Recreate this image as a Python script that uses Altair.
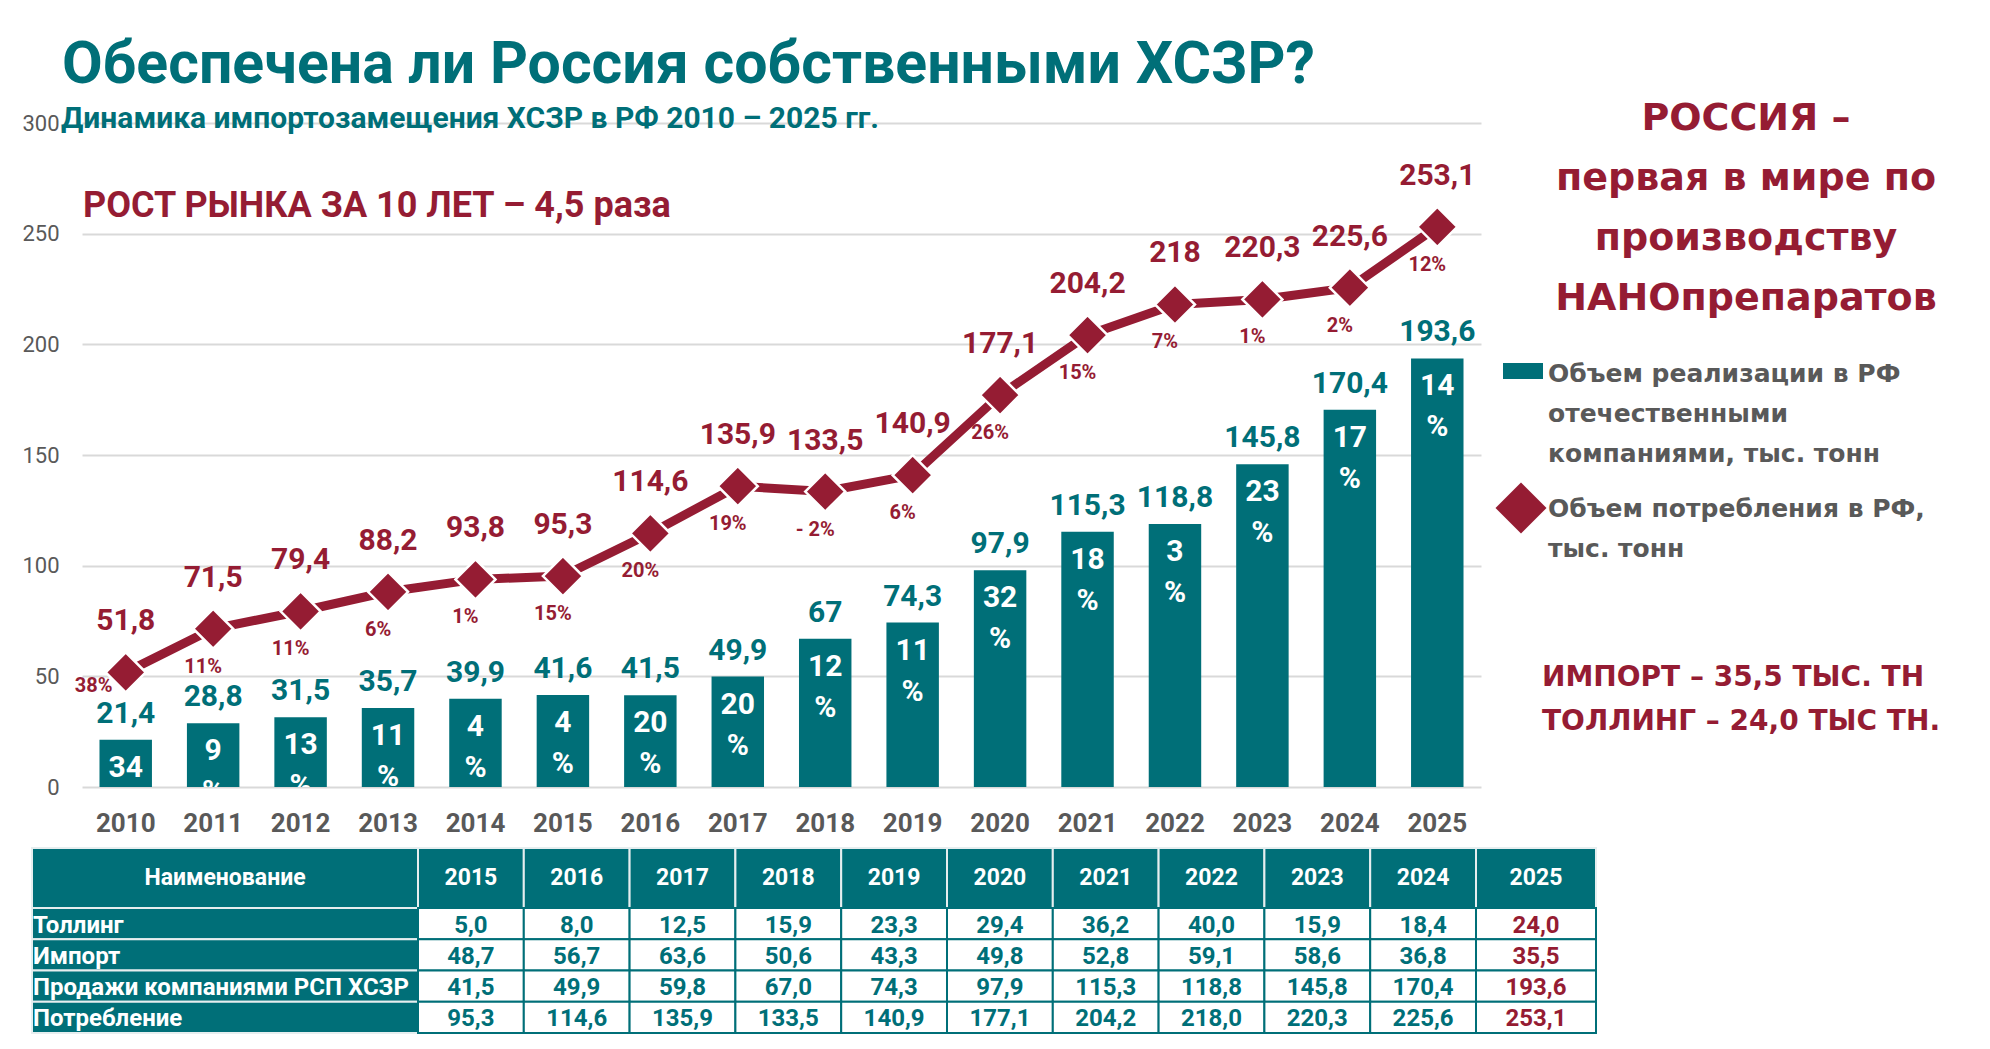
import altair as alt
import pandas as pd

# ---------------------------------------------------------------- data
years = [str(y) for y in range(2010, 2026)]
sales = [21.4, 28.8, 31.5, 35.7, 39.9, 41.6, 41.5, 49.9, 67, 74.3,
         97.9, 115.3, 118.8, 145.8, 170.4, 193.6]
sales_growth = [34, 9, 13, 11, 4, 4, 20, 20, 12, 11, 32, 18, 3, 23, 17, 14]
consumption = [51.8, 71.5, 79.4, 88.2, 93.8, 95.3, 114.6, 135.9, 133.5, 140.9,
               177.1, 204.2, 218, 220.3, 225.6, 253.1]
consumption_growth = [38, 11, 11, 6, 1, 15, 20, 19, -2, 6, 26, 15, 7, 1, 2, 12]

table_years = [str(y) for y in range(2015, 2026)]
table_names = ["Толлинг", "Импорт", "Продажи компаниями РСП ХСЗР", "Потребление"]
tolling = [5.0, 8.0, 12.5, 15.9, 23.3, 29.4, 36.2, 40.0, 15.9, 18.4, 24.0]
imports = [48.7, 56.7, 63.6, 50.6, 43.3, 49.8, 52.8, 59.1, 58.6, 36.8, 35.5]
sales_rsp = [41.5, 49.9, 59.8, 67.0, 74.3, 97.9, 115.3, 118.8, 145.8, 170.4, 193.6]
consumption_tbl = [95.3, 114.6, 135.9, 133.5, 140.9, 177.1, 204.2, 218.0, 220.3, 225.6, 253.1]

# ---------------------------------------------------------------- style
TEAL = "#006F78"
RED = "#951C33"
GRAY = "#595959"
GRID = "#D9D9D9"
NARROW = "Roboto"
WIDE = "DejaVu Sans"

W, H = 1399, 664          # plot area
PAD = {"left": 82, "top": 123, "right": 1990 - 82 - W, "bottom": 1049 - 123 - H}


def ru(v, fixed=False):
    s = f"{v:.1f}" if fixed else f"{v:g}"
    return s.replace(".", ",")


def pct(g):
    return f"{g}%" if g >= 0 else f"- {abs(g)}%"


df = pd.DataFrame({
    "year": years,
    "sales": sales,
    "sales_lbl": [ru(v) for v in sales],
    "sales_growth": [str(g) for g in sales_growth],
    "cons": consumption,
    "cons_lbl": [ru(v) for v in consumption],
    "cons_growth": [pct(g) for g in consumption_growth],
})

y_scale = alt.Scale(domain=[0, 300], nice=False, zero=True)
x_axis = alt.Axis(labelAngle=0, labelFont=NARROW, labelFontWeight="bold",
                  labelFontSize=26, labelColor=GRAY, labelPadding=36,
                  labelBaseline="middle", ticks=False, tickSize=0,
                  domain=False, grid=False)
y_axis = alt.Axis(values=[0, 50, 100, 150, 200, 250, 300], labelFont=NARROW,
                  labelFontSize=22, labelColor=GRAY, labelPadding=23,
                  ticks=False, tickSize=0, domain=False, grid=True,
                  gridColor=GRID, gridWidth=2)
X = alt.X("year:O", title=None,
          scale=alt.Scale(paddingInner=0.4, paddingOuter=0.2), axis=x_axis)


def Ys(field):
    return alt.Y(f"{field}:Q", title=None, scale=y_scale)


base = alt.Chart(df)

bars = base.mark_bar(color=TEAL).encode(
    x=X, y=alt.Y("sales:Q", title=None, scale=y_scale, axis=y_axis))

bar_values = base.mark_text(font=NARROW, fontWeight="bold", fontSize=30,
                            color=TEAL, baseline="middle", dy=-26).encode(
    x="year:O", y=Ys("sales"), text="sales_lbl:N")

bar_growth = base.mark_text(font=NARROW, fontWeight="bold", fontSize=30,
                            color="white", baseline="middle", dy=28,
                            clip=True).encode(
    x="year:O", y=Ys("sales"), text="sales_growth:N")

# the "%" line sits under the number; on the shortest bar it falls below the axis
bar_pct = base.transform_filter("datum.sales >= 25").mark_text(
    font=NARROW, fontWeight="bold", fontSize=30, color="white",
    baseline="middle", dy=69, clip=True).encode(
    x="year:O", y=Ys("sales"), text=alt.value("%"))

line = base.mark_line(color=RED, strokeWidth=9).encode(x="year:O", y=Ys("cons"))

points = base.mark_point(shape="diamond", filled=True, size=1600, fill=RED,
                         stroke="white", strokeWidth=2.5, opacity=1).encode(
    x="year:O", y=Ys("cons"))

line_values = base.mark_text(font=NARROW, fontWeight="bold", fontSize=30,
                             color=RED, baseline="middle", dy=-51).encode(
    x="year:O", y=Ys("cons"), text="cons_lbl:N")

line_growth = base.transform_filter("datum.year != '2010'").mark_text(
    font=NARROW, fontWeight="bold", fontSize=20, color=RED,
    baseline="middle", dx=-10, dy=38).encode(
    x="year:O", y=Ys("cons"), text="cons_growth:N")

line_growth_first = base.transform_filter("datum.year == '2010'").mark_text(
    font=NARROW, fontWeight="bold", fontSize=20, color=RED,
    baseline="middle", dx=-32, dy=14).encode(
    x="year:O", y=Ys("cons"), text="cons_growth:N")

main = alt.layer(bars, bar_values, bar_growth, bar_pct, line, points,
                 line_values, line_growth, line_growth_first)

# ---------------------------------------------------------------- table
col_widths = [386] + [105.8] * 10 + [120]
row_heights = [60] + [31.25] * 4
TABLE_LEFT, TABLE_TOP = -50, 725

col_edges = [0.0]
for w in col_widths:
    col_edges.append(col_edges[-1] + w)
row_edges = [0.0]
for h in row_heights:
    row_edges.append(row_edges[-1] + h)

series = [tolling, imports, sales_rsp, consumption_tbl]
cells = []
header = ["Наименование"] + table_years
for c, label in enumerate(header):
    cells.append(dict(r=0, c=c, text=label, kind="header",
                      fill=TEAL, stroke="#E6EEEF", tcolor="white"))
for r, name in enumerate(table_names, start=1):
    cells.append(dict(r=r, c=0, text=name, kind="name",
                      fill=TEAL, stroke="#E6EEEF", tcolor="white"))
    for c, v in enumerate(series[r - 1], start=1):
        last = table_years[c - 1] == "2025"
        cells.append(dict(r=r, c=c, text=ru(v, fixed=True), kind="value",
                          fill="white", stroke=TEAL,
                          tcolor=RED if last else TEAL))
tdf = pd.DataFrame(cells)
tdf["x0"] = [col_edges[c] for c in tdf["c"]]
tdf["x1"] = [col_edges[c + 1] for c in tdf["c"]]
tdf["xm"] = (tdf["x0"] + tdf["x1"]) / 2
tdf["y0"] = [row_edges[r] for r in tdf["r"]]
tdf["y1"] = [row_edges[r + 1] for r in tdf["r"]]
tdf["ym"] = (tdf["y0"] + tdf["y1"]) / 2

tx_scale = alt.Scale(domain=[0, col_edges[-1]], nice=False, zero=False,
                     range=[TABLE_LEFT, TABLE_LEFT + col_edges[-1]])
ty_scale = alt.Scale(domain=[0, row_edges[-1]], nice=False, zero=False,
                     range=[TABLE_TOP, TABLE_TOP + row_edges[-1]])

tbase = alt.Chart(tdf)
t_back = tbase.transform_filter("datum.kind != 'value'").mark_rect(
    strokeWidth=2).encode(
    x=alt.X("x0:Q", scale=tx_scale, axis=None), x2="x1:Q",
    y=alt.Y("y0:Q", scale=ty_scale, axis=None), y2="y1:Q",
    fill=alt.Fill("fill:N", scale=None), stroke=alt.Stroke("stroke:N", scale=None))
t_cells = tbase.transform_filter("datum.kind == 'value'").mark_rect(
    strokeWidth=2).encode(
    x=alt.X("x0:Q", scale=tx_scale, axis=None), x2="x1:Q",
    y=alt.Y("y0:Q", scale=ty_scale, axis=None), y2="y1:Q",
    fill=alt.Fill("fill:N", scale=None), stroke=alt.Stroke("stroke:N", scale=None))
t_head = tbase.transform_filter("datum.kind == 'header'").mark_text(
    font=NARROW, fontWeight="bold", fontSize=23, baseline="middle").encode(
    x=alt.X("xm:Q", scale=tx_scale, axis=None),
    y=alt.Y("ym:Q", scale=ty_scale, axis=None),
    text="text:N", color=alt.Color("tcolor:N", scale=None))
t_vals = tbase.transform_filter("datum.kind == 'value'").mark_text(
    font=NARROW, fontWeight="bold", fontSize=24, baseline="middle",
    dy=2).encode(
    x=alt.X("xm:Q", scale=tx_scale, axis=None),
    y=alt.Y("ym:Q", scale=ty_scale, axis=None),
    text="text:N", color=alt.Color("tcolor:N", scale=None))
t_names = tbase.transform_filter("datum.kind == 'name'").mark_text(
    font=NARROW, fontWeight="bold", fontSize=24, baseline="middle",
    align="left", dx=1, dy=2).encode(
    x=alt.X("x0:Q", scale=tx_scale, axis=None),
    y=alt.Y("ym:Q", scale=ty_scale, axis=None),
    text="text:N", color=alt.Color("tcolor:N", scale=None))

table = alt.layer(t_back, t_cells, t_head, t_vals, t_names)

# ---------------------------------------------------------------- notes
one = pd.DataFrame({"k": [0]})


def note(text, x, y, size, color, font, align="left", line_height=None):
    kw = dict(text=text, font=font, fontSize=size, fontWeight="bold",
              color=color, align=align, baseline="alphabetic")
    if line_height is not None:
        kw["lineHeight"] = line_height
    return alt.Chart(one).mark_text(**kw).encode(x=alt.value(x), y=alt.value(y))


title = note("Обеспечена ли Россия собственными ХСЗР?", -20, -40, 59, TEAL, NARROW)
subtitle = note("Динамика импортозамещения ХСЗР в РФ 2010 – 2025 гг.", -21, 5, 30,
                TEAL, NARROW)
growth_note = note("РОСТ РЫНКА ЗА 10 ЛЕТ – 4,5 раза", 1, 94, 36, RED, NARROW)
side_note = note(["РОССИЯ –", "первая в мире по", "производству", "НАНОпрепаратов"],
                 1664, 7, 38, RED, WIDE, align="center", line_height=60)
import_note = note(["ИМПОРТ – 35,5 ТЫС. ТН", "ТОЛЛИНГ – 24,0 ТЫС ТН."],
                   1460, 563, 28, RED, WIDE, line_height=44)

legend_bar = alt.Chart(one).mark_rect(color=TEAL).encode(
    x=alt.value(1421), x2=alt.value(1461), y=alt.value(240), y2=alt.value(256))
legend_bar_text = note(["Объем реализации в РФ", "отечественными",
                        "компаниями, тыс. тонн"], 1466, 259, 25, GRAY, WIDE,
                       line_height=40)
legend_diamond = alt.Chart(one).mark_point(
    shape="diamond", filled=True, size=2600, fill=RED, opacity=1).encode(
    x=alt.value(1439), y=alt.value(385))
legend_line_text = note(["Объем потребления в РФ,", "тыс. тонн"], 1466, 394, 25,
                        GRAY, WIDE, line_height=40)

chart = alt.layer(
    main, table, title, subtitle, growth_note, side_note, import_note,
    legend_bar, legend_bar_text, legend_diamond, legend_line_text,
).resolve_scale(
    x="independent", y="independent"
).properties(
    width=W, height=H,
    autosize=alt.AutoSizeParams(type="none"),
    padding=PAD,
    background="white",
).configure_view(stroke=None)

chart.save("out.html", embed_options={"renderer": "svg", "actions": False})
